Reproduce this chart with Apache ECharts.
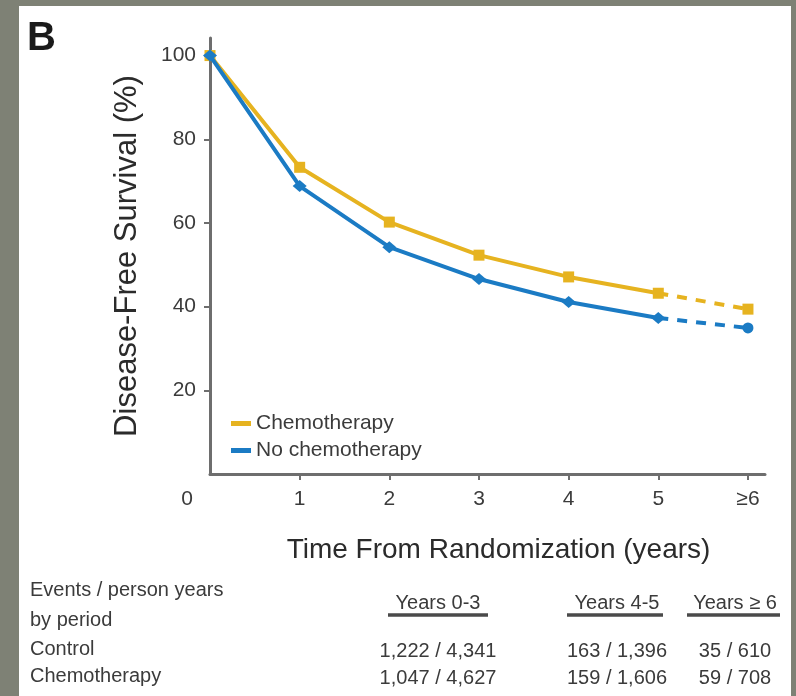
<!DOCTYPE html>
<html>
<head>
<meta charset="utf-8">
<script src="https://cdn.jsdelivr.net/npm/echarts@6/dist/echarts.min.js"></script>
<style>
body { margin: 0; background: #7e8175; }
#panel { position: absolute; left: 19px; top: 6px; width: 772px; height: 690px; background: #fff; }
#container { position: absolute; left: 0; top: 0; width: 796px; height: 696px; }
</style>
</head>
<body>
<div id="panel"></div>
<div id="container"></div>
<script type="text/javascript">

// axis ticks
var xTicks = [0, 1, 2, 3, 4, 5, 6];
var xTickLabels = ['0', '1', '2', '3', '4', '5', '\u22656'];
var yTicks = [20, 40, 60, 80, 100];

// disease-free survival (%) by year
var years = [0, 1, 2, 3, 4, 5];
var chemoValues = [100, 73.3, 60.2, 52.3, 47.1, 43.2];
var noChemoValues = [100, 68.8, 54.2, 46.6, 41.1, 37.3];
var lateYear = 6;
var chemoLate = 39.4;
var noChemoLate = 34.9;

// events / person years table
var rowLabels = ['Events / person years', 'by period', 'Control', 'Chemotherapy'];
var periods = ['Years 0-3', 'Years 4-5', 'Years \u2265 6'];
var controlEvents = ['1,222 / 4,341', '163 / 1,396', '35 / 610'];
var chemoEvents = ['1,047 / 4,627', '159 / 1,606', '59 / 708'];

var yellow = '#e6b320';
var blue = '#1b7bc4';
var axisGray = '#6e6e6e';
var textColor = '#3b3b3b';
var regular = "'Liberation Sans', Arial, sans-serif";

function pairs(xs, ys) {
    var out = [];
    for (var i = 0; i < xs.length; i++) {
        out.push([xs[i], ys[i]]);
    }
    return out;
}

function tableGraphics() {
    var g = [];
    var cols = [438, 617, 735];
    var rowY = [591, 621, 650, 677];
    for (var i = 0; i < rowLabels.length; i++) {
        g.push({type: 'text', left: 30, top: rowY[i] - 11,
            style: {text: rowLabels[i], fill: textColor, font: '20px ' + regular}});
    }
    var under = [[388, 488], [567, 663], [687, 780]];
    for (var j = 0; j < periods.length; j++) {
        g.push({type: 'text', x: cols[j], y: 603,
            style: {text: periods[j], fill: textColor, font: '20px ' + regular,
                align: 'center', verticalAlign: 'middle'}});
        g.push({type: 'line', shape: {x1: under[j][0], y1: 615, x2: under[j][1], y2: 615},
            style: {stroke: '#4a4a4a', lineWidth: 3.5}});
        g.push({type: 'text', x: cols[j], y: 651,
            style: {text: controlEvents[j], fill: textColor, font: '20px ' + regular,
                align: 'center', verticalAlign: 'middle'}});
        g.push({type: 'text', x: cols[j], y: 678,
            style: {text: chemoEvents[j], fill: textColor, font: '20px ' + regular,
                align: 'center', verticalAlign: 'middle'}});
    }
    g.push({type: 'text', left: 27, top: 19,
        style: {text: 'B', fill: '#1a1a1a', font: 'bold 40px ' + regular}});
    return g;
}

var dom = document.getElementById('container');
var myChart = echarts.init(dom);

var option = {
    animation: false,
    grid: {left: 210, right: 31, top: 38, bottom: 222},
    legend: {
        orient: 'vertical',
        left: 226,
        top: 408,
        itemWidth: 20,
        itemHeight: 5,
        itemGap: 6,
        icon: 'rect',
        data: ['Chemotherapy', 'No chemotherapy'],
        textStyle: {fontSize: 21, color: textColor, fontFamily: regular}
    },
    xAxis: {
        type: 'value',
        min: 0,
        max: 6.19,
        name: 'Time From Randomization (years)',
        nameLocation: 'middle',
        nameGap: 62,
        nameTextStyle: {fontSize: 28, color: '#2b2b2b', fontFamily: regular, padding: [0, 0, 0, 22]},
        axisLine: {lineStyle: {color: axisGray, width: 3}},
        axisTick: {show: true, length: 6, customValues: xTicks.slice(1), lineStyle: {color: axisGray, width: 2}},
        splitLine: {show: false},
        axisLabel: {
            customValues: xTicks,
            margin: 15,
            color: textColor,
            fontSize: 21,
            fontFamily: regular,
            formatter: function (v) {
                var k = xTicks.indexOf(v);
                if (v === 0) return '{o|0}';
                return xTickLabels[k];
            },
            rich: {o: {fontSize: 21, fontFamily: regular, color: textColor, padding: [0, 46, 0, 0]}}
        }
    },
    yAxis: {
        type: 'value',
        min: 0,
        max: 104.2,
        name: 'Disease-Free Survival (%)',
        nameLocation: 'middle',
        nameGap: 67,
        nameTextStyle: {fontSize: 31, color: '#2b2b2b', fontFamily: regular},
        axisLine: {show: true, lineStyle: {color: axisGray, width: 3}},
        axisTick: {show: true, length: 6, customValues: yTicks, lineStyle: {color: axisGray, width: 2}},
        splitLine: {show: false},
        axisLabel: {
            customValues: yTicks,
            margin: 14,
            color: textColor,
            fontSize: 21,
            fontFamily: regular
        }
    },
    series: [
        {
            name: 'Chemotherapy',
            type: 'line',
            data: pairs(years, chemoValues),
            symbol: 'rect',
            symbolSize: 11,
            itemStyle: {color: yellow},
            lineStyle: {color: yellow, width: 4},
            z: 3
        },
        {
            name: 'Chemotherapy',
            type: 'line',
            data: [
                {value: [years[years.length - 1], chemoValues[chemoValues.length - 1]], symbol: 'none'},
                [lateYear, chemoLate]
            ],
            symbol: 'rect',
            symbolSize: 11,
            itemStyle: {color: yellow},
            lineStyle: {color: yellow, width: 4, type: [10, 9]},
            z: 3
        },
        {
            name: 'No chemotherapy',
            type: 'line',
            data: pairs(years, noChemoValues),
            symbol: 'diamond',
            symbolSize: [14, 12],
            itemStyle: {color: blue},
            lineStyle: {color: blue, width: 4},
            z: 4
        },
        {
            name: 'No chemotherapy',
            type: 'line',
            data: [
                {value: [years[years.length - 1], noChemoValues[noChemoValues.length - 1]], symbol: 'none'},
                [lateYear, noChemoLate]
            ],
            symbol: 'circle',
            symbolSize: 11,
            itemStyle: {color: blue},
            lineStyle: {color: blue, width: 4, type: [10, 9]},
            z: 4
        }
    ],
    graphic: tableGraphics()
};

myChart.setOption(option);

</script>
</body>
</html>
